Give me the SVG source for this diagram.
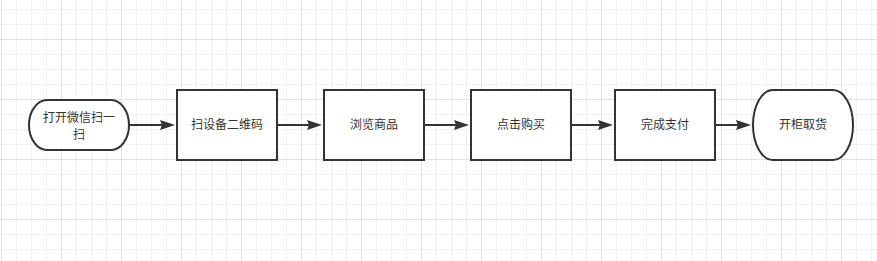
<svg xmlns="http://www.w3.org/2000/svg" width="877" height="261" viewBox="0 0 877 261">
  <style>
    .node { fill: #ffffff; stroke: #333333; stroke-width: 2; }
    .label { font-family: "Liberation Sans", "Noto Sans CJK SC", sans-serif; font-size: 12px; fill: #333333; text-anchor: middle; }
    .edge { fill: none; stroke: #333333; stroke-width: 2; }
  </style>
  <defs>
    <pattern id="minor" x="0" y="9" width="15" height="15" patternUnits="userSpaceOnUse">
      <path d="M1.5 0 V15 M0 0.5 H15" fill="none" stroke="#f0f0f0" stroke-width="1"/>
    </pattern>
    <pattern id="major" x="0" y="39" width="60" height="60" patternUnits="userSpaceOnUse">
      <path d="M1.5 0 V60 M0 0.5 H60" fill="none" stroke="#e2e2e2" stroke-width="1"/>
    </pattern>
    <marker id="arrow" viewBox="0 0 15 10" refX="2" refY="5" markerWidth="15" markerHeight="10" markerUnits="userSpaceOnUse" orient="auto">
      <path d="M0 0 L15 5 L0 10 L2 5 Z" fill="#333333"/>
    </marker>
  </defs>
  <rect width="877" height="261" fill="#ffffff"/>
  <rect width="877" height="261" fill="url(#minor)"/>
  <rect width="877" height="261" fill="url(#major)"/>

  <g id="connectors">
    <path class="edge" d="M129 125 H162" marker-end="url(#arrow)"/>
    <path class="edge" d="M277 125 H309" marker-end="url(#arrow)"/>
    <path class="edge" d="M424 125 H456" marker-end="url(#arrow)"/>
    <path class="edge" d="M571 125 H600" marker-end="url(#arrow)"/>
    <path class="edge" d="M715 125 H738" marker-end="url(#arrow)"/>
  </g>

  <g id="n1">
    <rect class="node" x="29" y="100" width="100" height="50" rx="18" ry="25"/>
    <text class="label" x="79" y="122">打开微信扫一</text>
    <text class="label" x="79" y="139">扫</text>
  </g>
  <g id="n2">
    <rect class="node" x="177" y="90" width="100" height="70"/>
    <text class="label" x="227" y="129">扫设备二维码</text>
  </g>
  <g id="n3">
    <rect class="node" x="324" y="90" width="100" height="70"/>
    <text class="label" x="374" y="129">浏览商品</text>
  </g>
  <g id="n4">
    <rect class="node" x="471" y="90" width="100" height="70"/>
    <text class="label" x="521" y="129">点击购买</text>
  </g>
  <g id="n5">
    <rect class="node" x="615" y="90" width="100" height="70"/>
    <text class="label" x="665" y="129">完成支付</text>
  </g>
  <g id="n6">
    <rect class="node" x="753" y="90" width="100" height="70" rx="20" ry="35"/>
    <text class="label" x="803" y="129">开柜取货</text>
  </g>
</svg>
